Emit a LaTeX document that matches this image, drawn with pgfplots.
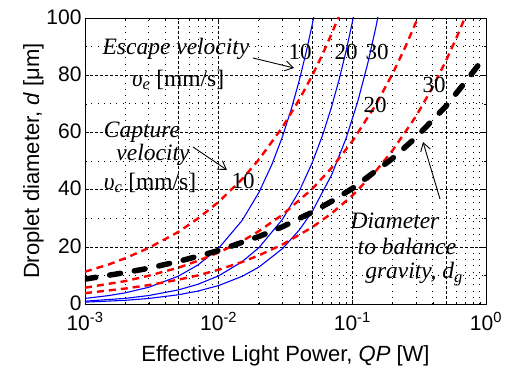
\documentclass[border=0pt]{standalone}
\usepackage{fontspec}
\setmainfont{Liberation Serif}
\setsansfont{Liberation Sans}
\usepackage{pgfplots}
\pgfplotsset{compat=1.18}
\usetikzlibrary{arrows.meta}
\begin{document}
\begin{tikzpicture}
\path[use as bounding box] (-85bp,-65bp) rectangle (428bp,304bp);
\begin{axis}[
  scale only axis, width=401bp, height=286bp,
  at={(0,0)}, anchor=south west,
  xmode=log, xmin=1e-3, xmax=1, ymin=0, ymax=100,
  xtick={0.001,0.01,0.1,1},
  xticklabels={10\textsuperscript{-3},10\textsuperscript{-2},10\textsuperscript{-1},10\textsuperscript{0}},
  minor xtick={0.002,0.003,0.004,0.006,0.007,0.008,0.009,0.02,0.03,0.04,0.06,0.07,0.08,0.09,0.2,0.3,0.4,0.6,0.7,0.8,0.9},
  extra x ticks={0.005,0.05,0.5},
  extra x tick labels={,,},
  extra x tick style={grid=major, major tick length=2bp},
  ytick={0,20,40,60,80,100},
  yticklabels={0,20,40,60,80,100},
  minor ytick={10,30,50,70,90},
  grid=both,
  major grid style={black, line width=0.5bp, dash pattern=on 3bp off 2bp},
  minor grid style={black, line width=0.8bp, dash pattern=on 0.8bp off 5.5bp},
  tick align=inside, major tick length=4bp, minor tick length=2.5bp,
  tick style={black, line width=0.5bp},
  axis line style={line width=0.8bp},
  ticklabel style={font=\sffamily\fontsize{21bp}{24bp}\selectfont},
  xticklabel style={yshift=-5bp},
  yticklabel style={yshift=1bp},
  xlabel={Effective Light Power, \textit{QP} [W]},
  ylabel={Droplet diameter, \textit{d} [μm]},
  label style={font=\sffamily\fontsize{22bp}{25bp}\selectfont},
  xlabel style={yshift=-8bp},
  ylabel style={yshift=-4bp},
]
% Escape velocity (blue)
\addplot[blue, line width=1.1bp] coordinates {
(0.001,1.95)(0.0015,2.93)(0.002,3.9)(0.003,5.85)(0.005,9.75)(0.007,13.65)(0.01,19.5)(0.015,29.25)(0.02,39)(0.025,48.75)(0.03,58.5)(0.035,68.25)(0.04,78)(0.045,87.75)(0.05,97.5)(0.055,107.25)};
\addplot[blue, line width=1.1bp] coordinates {
(0.001,0.99)(0.002,1.97)(0.003,2.96)(0.005,4.93)(0.007,6.9)(0.01,9.85)(0.015,14.8)(0.02,19.7)(0.03,29.6)(0.04,39.4)(0.05,49.3)(0.06,59.1)(0.07,69)(0.08,78.8)(0.09,88.7)(0.1,98.5)(0.11,108.4)};
\addplot[blue, line width=1.1bp] coordinates {
(0.001,0.65)(0.002,1.29)(0.003,1.94)(0.005,3.23)(0.007,4.52)(0.01,6.45)(0.015,9.68)(0.02,12.9)(0.03,19.35)(0.04,25.8)(0.05,32.25)(0.07,45.15)(0.09,58.05)(0.11,70.95)(0.13,83.85)(0.15,96.75)(0.17,109.65)};
% Capture velocity (red dashed)
\addplot[red, line width=2.4bp, dash pattern=on 7bp off 5bp] coordinates {
(0.001,11.3)(0.0015,13.8)(0.002,16.0)(0.003,19.6)(0.005,25.2)(0.007,29.9)(0.01,35.7)(0.015,43.7)(0.02,50.5)(0.03,61.8)(0.04,71.4)(0.05,79.8)(0.06,87.4)(0.07,94.5)(0.08,101)};
\addplot[red, line width=2.4bp, dash pattern=on 7bp off 5bp] coordinates {
(0.001,5.7)(0.002,8.0)(0.003,9.9)(0.005,12.7)(0.007,15.1)(0.01,18)(0.015,22)(0.02,25.5)(0.03,31.2)(0.05,40.2)(0.07,47.6)(0.1,56.9)(0.15,69.7)(0.2,80.5)(0.25,90)(0.3,98.6)(0.32,101.8)};
\addplot[red, line width=2.4bp, dash pattern=on 7bp off 5bp] coordinates {
(0.001,3.8)(0.002,5.4)(0.003,6.6)(0.005,8.5)(0.007,10.0)(0.01,12)(0.015,14.7)(0.02,17)(0.03,20.8)(0.05,26.8)(0.07,31.7)(0.1,37.9)(0.15,46.5)(0.2,53.7)(0.3,65.7)(0.4,75.9)(0.5,84.9)(0.6,93)(0.7,100.4)};
% Diameter to balance gravity (black thick dashed)
\addplot[black, line width=5.5bp, dash pattern=on 11bp off 14bp, line cap=round] coordinates {
(0.001,8.7)(0.002,11.0)(0.003,12.5)(0.005,14.9)(0.007,16.7)(0.01,18.7)(0.02,23.6)(0.03,27.0)(0.05,32.1)(0.07,35.9)(0.1,40.4)(0.2,50.9)(0.3,58.3)(0.5,69.1)(0.7,77.6)(1,87)};
\end{axis}
% annotations (bp relative to axis lower-left corner)
\begin{scope}[every node/.style={font=\itshape\fontsize{23.5bp}{26bp}\selectfont, inner sep=0pt}]
\node at (91bp,255bp) {Escape velocity};
\node at (93bp,224bp) {υ\textsubscript{e} \upshape[mm/s]};
\draw[line width=0.9bp, -{Straight Barb[length=8bp,width=10bp]}] (168bp,246bp) -- (209bp,236bp);
\node[font=\fontsize{23bp}{25bp}\selectfont] at (215bp,252bp) {10};
\node[font=\fontsize{23bp}{25bp}\selectfont] at (261bp,252bp) {20};
\node[font=\fontsize{23bp}{25bp}\selectfont] at (292bp,252bp) {30};
\node at (57bp,172bp) {Capture};
\node at (68bp,149bp) {velocity};
\node at (65bp,121bp) {υ\textsubscript{c} \upshape[mm/s]};
\draw[line width=0.9bp, -{Straight Barb[length=8bp,width=10bp]}] (108bp,157bp) -- (142bp,134bp);
\node[font=\fontsize{23bp}{25bp}\selectfont] at (158bp,123bp) {10};
\node[font=\fontsize{23bp}{25bp}\selectfont] at (290bp,199bp) {20};
\node[font=\fontsize{23bp}{25bp}\selectfont] at (349bp,219bp) {30};
\node at (310bp,83bp) {Diameter};
\node at (322bp,58bp) {to balance};
\node at (329bp,30bp) {gravity, \textit{d}\textsubscript{g}};
\draw[line width=0.9bp, -{Straight Barb[length=8bp,width=10bp]}] (355bp,105bp) -- (338bp,162bp);
\end{scope}
\end{tikzpicture}
\end{document}
